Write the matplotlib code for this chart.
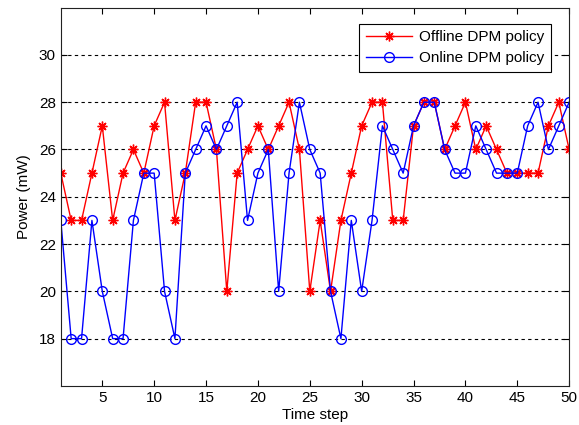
import matplotlib
matplotlib.use("Agg")
import matplotlib.pyplot as plt
import numpy as np

time_steps = list(range(1, 51))
offline = [25, 23, 23, 25, 27, 23, 25, 26, 25, 27,
           28, 23, 25, 28, 28, 26, 20, 25, 26, 27,
           26, 27, 28, 26, 20, 23, 20, 23, 25, 27,
           28, 28, 23, 23, 27, 28, 28, 26, 27, 28,
           26, 27, 26, 25, 25, 25, 25, 27, 28, 26]
online = [23, 18, 18, 23, 20, 18, 18, 23, 25, 25,
          20, 18, 25, 26, 27, 26, 27, 28, 23, 25,
          26, 20, 25, 28, 26, 25, 20, 18, 23, 20,
          23, 27, 26, 25, 27, 28, 28, 26, 25, 25,
          27, 26, 25, 25, 25, 27, 28, 26, 27, 28]
xticks = [5, 10, 15, 20, 25, 30, 35, 40, 45, 50]
yticks = [18, 20, 22, 24, 26, 28, 30]

plt.rcParams['font.family'] = ['Liberation Sans', 'DejaVu Sans']
fig = plt.figure(figsize=(5.79, 4.25), dpi=100)
ax = fig.add_axes([0.105, 0.092, 0.878, 0.890])

ax.plot(time_steps, offline, color='#ff0000', lw=1.0, marker=(8, 2, 0),
        markersize=7, markeredgewidth=1.0, label='Offline DPM policy')
ax.plot(time_steps, online, color='#0000ff', lw=1.0, marker='o',
        markersize=7, markerfacecolor='none', markeredgewidth=1.0,
        label='Online DPM policy')

ax.set_xlim(1, 50)
ax.set_ylim(16, 32)
ax.set_xticks(xticks)
ax.set_yticks(yticks)
ax.yaxis.grid(True, linestyle=(0, (3, 3)), color='black', lw=0.8)
ax.set_axisbelow(True)
ax.tick_params(direction='in', top=True, right=True, labelsize=11, length=4)
for s in ax.spines.values():
    s.set_color('#222222')
ax.set_xlabel('Time step', fontsize=11, labelpad=2)
ax.set_ylabel('Power (mW)', fontsize=11, labelpad=6)

leg = ax.legend(loc='upper right', bbox_to_anchor=(0.965, 0.958), fontsize=11,
                fancybox=False, framealpha=1, edgecolor='black',
                borderaxespad=0, handlelength=3.0, borderpad=0.45,
                labelspacing=0.45, handletextpad=0.5)
leg.get_frame().set_linewidth(0.8)

fig.savefig('out.png', dpi=100)
